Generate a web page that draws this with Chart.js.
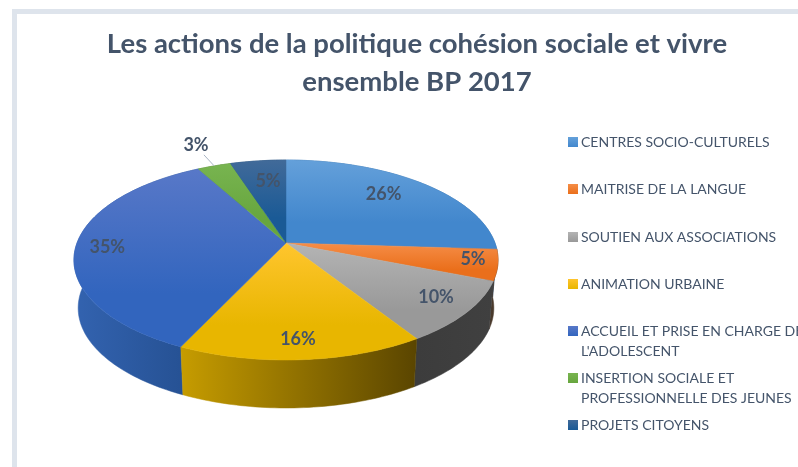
<!DOCTYPE html>
<html>
<head>
<meta charset="utf-8">
<script src="https://cdn.jsdelivr.net/npm/chart.js@4"></script>
<style>
  html, body { margin: 0; padding: 0; background: #fff; overflow: hidden; }
  #frame { position: absolute; left: 12px; top: 9px; right: 0; bottom: 0; border-left: 5px solid #dee4ec; border-top: 5px solid #dee4ec; }
  #wrap { position: absolute; left: 0; top: 0; width: 798px; height: 467px; }
</style>
</head>
<body>
<div id="frame"></div>
<div id="wrap"><canvas id="chart"></canvas></div>
<script>
// Data
const titleLines = ['Les actions de la politique cohésion sociale et vivre', 'ensemble BP 2017'];
const categories = [
  ['CENTRES SOCIO-CULTURELS'],
  ['MAITRISE DE LA LANGUE'],
  ['SOUTIEN AUX ASSOCIATIONS'],
  ['ANIMATION URBAINE'],
  ['ACCUEIL ET PRISE EN CHARGE DE', "L'ADOLESCENT"],
  ['INSERTION SOCIALE ET', 'PROFESSIONNELLE DES JEUNES'],
  ['PROJETS CITOYENS']
];
const values = [26, 5, 10, 16, 35, 3, 5];

// Colours: top face gradient (from, to), side gradient (left, right)
const topColors = [
  ['#64a0da', '#4287cd'], ['#f58d47', '#ea6f1b'], ['#b4b4b4', '#999999'], ['#ffc52e', '#e8b600'],
  ['#5878c8', '#3265be'], ['#78b450', '#67a63e'], ['#416a99', '#1a5a96']
];
const sideColors = [
  ['#2f6ba6', '#2f6ba6'], ['#4a3a2c', '#4a3a2c'], ['#3c3c3c', '#404040'], ['#c69c00', '#5a4500'],
  ['#3363b0', '#244f90'], ['#4e7a30', '#4e7a30'], ['#15426e', '#15426e']
];
const textColor = '#44546a';

// Tilted pie geometry (perspective, far edge is smaller)
const pie = { cx: 286, cy: 243, a: 209, b: 97.1, k: 0.17, depth: 48, bottomScale: 0.98 };
const labelRadius = [0.75, 0.885, 0.83, 0.85, 0.85, 1.325, 0.72];
const labelAngleShift = [-3.9, -2.2, -1.8, 0.3, -1, 0.3, 1.3];
const legendBox = { swatchX: 568, swatchSize: 10, textX: 581, lineHeight: 20 };
const legendY = [142, 189, 237, 284, 331, 378, 425];

function project(angle, f, s, dy) {
  const u = Math.cos(angle) * f;
  const v = Math.sin(angle) * f;
  const w = 1 - pie.k * v;
  return { x: pie.cx + pie.a * s * u / w, y: pie.cy + pie.b * v / w + dy };
}

function arcPoints(start, end, s, dy) {
  const pts = [];
  const steps = Math.max(2, Math.ceil((end - start) / 0.02));
  for (let i = 0; i <= steps; i++) {
    pts.push(project(start + (end - start) * i / steps, 1, s, dy));
  }
  return pts;
}

function fillPoly(ctx, pts, fill) {
  ctx.beginPath();
  pts.forEach((p, i) => i ? ctx.lineTo(p.x, p.y) : ctx.moveTo(p.x, p.y));
  ctx.closePath();
  ctx.fillStyle = fill;
  ctx.fill();
  ctx.strokeStyle = fill;
  ctx.lineWidth = 0.5;
  ctx.stroke();
}

const pie3d = {
  id: 'pie3d',
  beforeDatasetsDraw(chart) {
    const ctx = chart.ctx;
    const arcs = chart.getDatasetMeta(0).data;

    // sides, far ones first, then the top faces cover what is hidden
    const order = arcs.map((_, i) => i).sort((p, q) =>
      Math.sin((arcs[p].startAngle + arcs[p].endAngle) / 2) - Math.sin((arcs[q].startAngle + arcs[q].endAngle) / 2));
    order.forEach(i => {
      const top = arcPoints(arcs[i].startAngle, arcs[i].endAngle, 1, 0);
      const bottom = arcPoints(arcs[i].startAngle, arcs[i].endAngle, pie.bottomScale, pie.depth);
      const xs = top.map(p => p.x);
      const g = ctx.createLinearGradient(Math.min(...xs), 0, Math.max(...xs), 0);
      g.addColorStop(0, sideColors[i][0]);
      g.addColorStop(1, sideColors[i][1]);
      fillPoly(ctx, top.concat(bottom.reverse()), g);
    });

    arcs.forEach((arc, i) => {
      const pts = arcPoints(arc.startAngle, arc.endAngle, 1, 0);
      pts.push({ x: pie.cx, y: pie.cy });
      const ys = pts.map(p => p.y);
      const minY = Math.min(...ys);
      const g = ctx.createLinearGradient(0, minY, 0, minY + (Math.max(...ys) - minY) * 0.7);
      g.addColorStop(0, topColors[i][0]);
      g.addColorStop(1, topColors[i][1]);
      fillPoly(ctx, pts, g);
    });

    // leader line of the small slice
    const small = values.indexOf(3);
    const mid = (arcs[small].startAngle + arcs[small].endAngle) / 2;
    const p0 = project(mid, 1.0, 1, 0);
    const p1 = project(mid, 1.17, 1, 0);
    ctx.beginPath();
    ctx.moveTo(p0.x, p0.y);
    ctx.lineTo(p1.x, p1.y);
    ctx.strokeStyle = '#a9b4c4';
    ctx.lineWidth = 1;
    ctx.stroke();

    // value labels
    ctx.font = 'bold 18px Lato';
    ctx.fillStyle = textColor;
    ctx.textAlign = 'center';
    ctx.textBaseline = 'middle';
    arcs.forEach((arc, i) => {
      const a = (arc.startAngle + arc.endAngle) / 2 + labelAngleShift[i] * Math.PI / 180;
      const p = project(a, labelRadius[i], 1, 0);
      ctx.fillText(values[i] + '%', p.x, p.y);
    });
    return false;
  },
  afterDraw(chart) {
    const ctx = chart.ctx;
    ctx.save();
    ctx.textAlign = 'left';
    ctx.textBaseline = 'middle';
    ctx.font = '14px Lato';
    categories.forEach((lines, i) => {
      const y = legendY[i];
      const half = legendBox.swatchSize / 2;
      const g = ctx.createLinearGradient(0, y - half, 0, y + half);
      g.addColorStop(0, topColors[i][0]);
      g.addColorStop(1, topColors[i][1]);
      ctx.fillStyle = g;
      ctx.fillRect(legendBox.swatchX, y - half, legendBox.swatchSize, legendBox.swatchSize);
      ctx.fillStyle = textColor;
      lines.forEach((line, n) => ctx.fillText(line, legendBox.textX, y + n * legendBox.lineHeight));
    });
    ctx.restore();
  }
};

new Chart(document.getElementById('chart'), {
  type: 'pie',
  data: {
    labels: categories,
    datasets: [{ data: values, backgroundColor: topColors.map(c => c[0]), borderWidth: 0 }]
  },
  options: {
    responsive: true,
    maintainAspectRatio: false,
    animation: false,
    // left padding only shifts the title to its place in the frame
    layout: { padding: { left: 36 } },
    plugins: {
      legend: { display: false },
      tooltip: { enabled: false },
      title: {
        display: true,
        text: titleLines,
        color: textColor,
        font: { family: 'Lato', size: 27.5, weight: 'bold', lineHeight: 1.35 },
        padding: { top: 26, bottom: 10 }
      }
    }
  },
  plugins: [pie3d]
});
</script>
</body>
</html>
